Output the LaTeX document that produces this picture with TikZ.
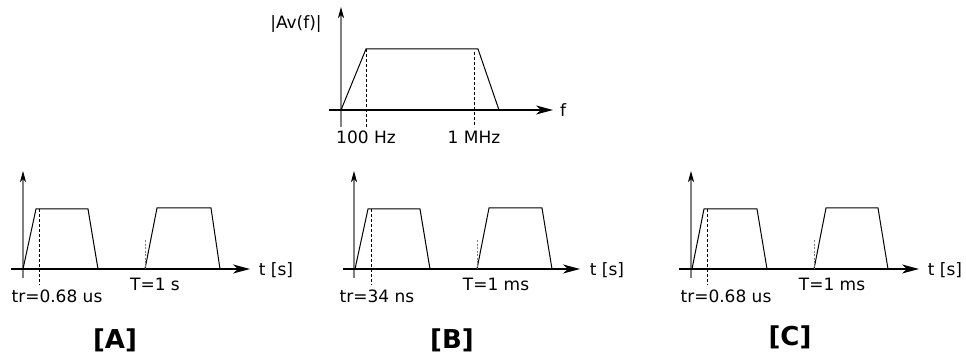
\documentclass[tikz,border=0pt]{standalone}
\usepackage{fontspec}
\setmainfont{DejaVu Sans}
\usetikzlibrary{arrows.meta}
\begin{document}
\begin{tikzpicture}[x=1pt,y=-1pt,
  lbl/.style={font=\fontsize{17}{19}\selectfont, inner sep=0pt},
  ttl/.style={font=\fontsize{26}{28}\selectfont\bfseries, inner sep=0pt},
  haxis/.style={black, line width=1.2pt, -{Stealth[length=17pt,width=9pt,inset=5pt]}},
  vaxis/.style={gray, line width=1.1pt, -{Stealth[black,length=11pt,width=6pt,inset=3pt]}},
  sig/.style={black, line width=1pt, line join=miter},
  dsh/.style={black, line width=0.9pt, dash pattern=on 3pt off 2pt},
  gdsh/.style={gray, line width=0.9pt, dash pattern=on 2pt off 1.5pt}]
\useasboundingbox (0,0) rectangle (966,358);

% ---------- top: frequency response ----------
\coordinate (fv0) at (341,127);
\coordinate (fv1) at (341,7);
\coordinate (fh0) at (329,110);
\coordinate (fh1) at (553,110);
\draw[vaxis] (fv0) -- (fv1);
\draw[haxis] (fh0) -- (fh1);
\coordinate (fa) at (341,110);
\coordinate (fb) at (366,49);
\coordinate (fc) at (478,49);
\coordinate (fd) at (499,110);
\draw[sig] (fa) -- (fb) -- (fc) -- (fd);
\coordinate (fdl) at (366,127);
\coordinate (fdr0) at (474,52);
\coordinate (fdr1) at (474,127);
\draw[dsh] (fb) -- (fdl);
\draw[dsh] (fdr0) -- (fdr1);
\node[lbl] (avf) at (296,24) {|Av(f)|};
\node[lbl] (flab) at (563,110) {f};
\node[lbl] (f100) at (366,137) {100 Hz};
\node[lbl] (f1m) at (474,137) {1 MHz};

% Panel A
\coordinate (av0) at (23,278);
\coordinate (av1) at (23,171);
\coordinate (ah0) at (11,269);
\coordinate (ah1) at (250,269);
\draw[vaxis] (av0) -- (av1);
\draw[haxis] (ah0) -- (ah1);
\coordinate (a1) at (23,269);
\coordinate (a2) at (36,209);
\coordinate (a3) at (88,209);
\coordinate (a4) at (98,269);
\draw[sig] (a1) -- (a2) -- (a3) -- (a4);
\coordinate (a5) at (145,269);
\coordinate (a6) at (157,208);
\coordinate (a7) at (211,208);
\coordinate (a8) at (220,269);
\draw[sig] (a5) -- (a6) -- (a7) -- (a8);
\coordinate (ad0) at (39,209);
\coordinate (ad1) at (39,285);
\draw[dsh] (ad0) -- (ad1);
\coordinate (ag0) at (145,240);
\draw[gdsh] (ag0) -- (a5);
\node[lbl] (atl) at (276,270) {t [s]};
\node[lbl] (atr) at (57,296) {tr=0.68 us};
\node[lbl] (aT) at (155,284) {T=1 s};
\node[ttl] (aname) at (115,340) {[A]};

% Panel B
\coordinate (bv0) at (354,278);
\coordinate (bv1) at (354,171);
\coordinate (bh0) at (343,269);
\coordinate (bh1) at (580,269);
\draw[vaxis] (bv0) -- (bv1);
\draw[haxis] (bh0) -- (bh1);
\coordinate (b1) at (355,269);
\coordinate (b2) at (368,209);
\coordinate (b3) at (420,209);
\coordinate (b4) at (430,269);
\draw[sig] (b1) -- (b2) -- (b3) -- (b4);
\coordinate (b5) at (477,269);
\coordinate (b6) at (489,208);
\coordinate (b7) at (542,208);
\coordinate (b8) at (552,269);
\draw[sig] (b5) -- (b6) -- (b7) -- (b8);
\coordinate (bd0) at (371,209);
\coordinate (bd1) at (371,285);
\draw[dsh] (bd0) -- (bd1);
\coordinate (bg0) at (477,240);
\draw[gdsh] (bg0) -- (b5);
\node[lbl] (btl) at (607,270) {t [s]};
\node[lbl] (btr) at (377,296) {tr=34 ns};
\node[lbl] (bT) at (496,284) {T=1 ms};
\node[ttl] (bname) at (452,340) {[B]};

% Panel C
\coordinate (cv0) at (691,278);
\coordinate (cv1) at (691,171);
\coordinate (ch0) at (679,269);
\coordinate (ch1) at (919,269);
\draw[vaxis] (cv0) -- (cv1);
\draw[haxis] (ch0) -- (ch1);
\coordinate (c1) at (692,269);
\coordinate (c2) at (704,209);
\coordinate (c3) at (757,209);
\coordinate (c4) at (767,269);
\draw[sig] (c1) -- (c2) -- (c3) -- (c4);
\coordinate (c5) at (814,269);
\coordinate (c6) at (826,208);
\coordinate (c7) at (878,208);
\coordinate (c8) at (888,269);
\draw[sig] (c5) -- (c6) -- (c7) -- (c8);
\coordinate (cd0) at (707,209);
\coordinate (cd1) at (707,285);
\draw[dsh] (cd0) -- (cd1);
\coordinate (cg0) at (814,240);
\draw[gdsh] (cg0) -- (c5);
\node[lbl] (ctl) at (945,270) {t [s]};
\node[lbl] (ctr) at (726,296) {tr=0.68 us};
\node[lbl] (cT) at (832,284) {T=1 ms};
\node[ttl] (cname) at (790,337) {[C]};
\end{tikzpicture}
\end{document}
